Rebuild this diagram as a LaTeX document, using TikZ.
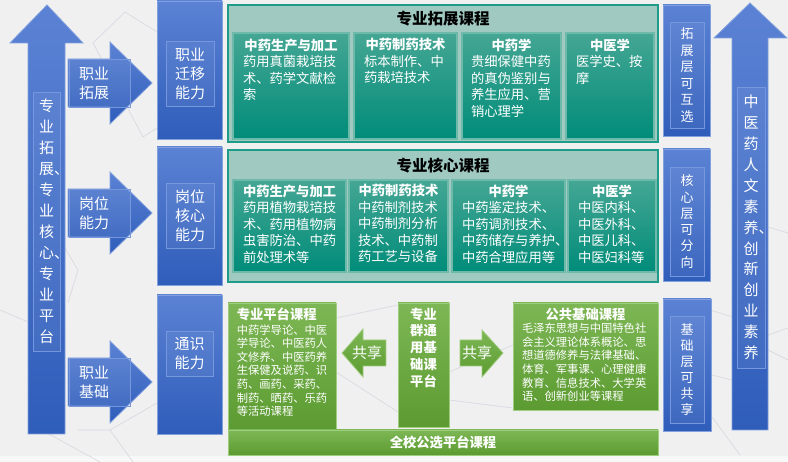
\documentclass[tikz,border=0pt]{standalone}
\usepackage{fontspec}
\setmainfont{Noto Sans CJK SC}
\usepackage{tikz}
\usetikzlibrary{positioning}
\definecolor{bgcol}{HTML}{F0F0F0}
\definecolor{bgline}{HTML}{D9D9E3}
\definecolor{bluetop}{HTML}{5B82D4}
\definecolor{bluebot}{HTML}{2F5DBA}
\definecolor{blueedge}{HTML}{82A0DE}
\definecolor{tealpale}{HTML}{9FC9C1}
\definecolor{tealedge}{HTML}{1E9C88}
\definecolor{tealtop}{HTML}{45A694}
\definecolor{tealbot}{HTML}{008C79}
\definecolor{tealsub}{HTML}{6DB9AA}
\definecolor{greentop}{HTML}{7DB755}
\definecolor{greenbot}{HTML}{5C9B31}
\definecolor{greenedge}{HTML}{9FCD7E}

\begin{document}
\begin{tikzpicture}[x=1pt, y=-1pt]
        %style
        \tikzset{bluebox/.style = {shape=rectangle, draw=blueedge, top color=bluetop, bottom color=bluebot, line width=0.8pt}}
        \tikzset{bluearrow/.style = {draw=blueedge, top color=bluetop, bottom color=bluebot, line width=0.8pt}}
        \tikzset{inbox/.style = {shape=rectangle, draw=blueedge!70!bluetop, fill=white, fill opacity=0.06, text opacity=1, text=white, align=center, inner sep=0pt, font=\fontsize{15}{19}\selectfont}}
        \tikzset{panel/.style = {shape=rectangle, draw=tealedge, fill=tealpale, line width=1.6pt}}
        \tikzset{ptitle/.style = {font=\fontsize{15.5}{18}\selectfont\bfseries, text=black, inner sep=0pt}}
        \tikzset{sub/.style = {shape=rectangle, draw=tealsub, top color=tealtop, bottom color=tealbot, line width=1.2pt, minimum width=10}}
        \tikzset{subtxt/.style = {text=white, align=left, inner sep=0pt, font=\fontsize{13.3}{16.5}\selectfont}}
        \tikzset{greenbox/.style = {shape=rectangle, draw=greenedge, top color=greentop, bottom color=greenbot, line width=0.8pt}}
        \tikzset{greenarrow/.style = {draw=greenedge, top color=greentop, bottom color=greenbot, line width=0.8pt}}
        \tikzset{gtxt/.style = {text=white, align=left, inner sep=0pt, font=\fontsize{11.3}{13.6}\selectfont}}
        \tikzset{gtitle/.style = {text=white, align=center, inner sep=0pt, font=\fontsize{13.3}{16.7}\selectfont\bfseries}}
        \tikzset{netline/.style = {draw=bgline, line width=0.7pt}}
        \fill[bgcol] (0,0) rectangle (788,462);
        \fill[white!55!bgcol] (0,456) rectangle (788,462);
        \useasboundingbox (0,0) rectangle (788,462);
        \draw[netline] (93,43) -- (125,12) -- (157,32);
        \draw[netline] (93,43) -- (143,137) -- (157,128);
        \draw[netline] (65,248) -- (78,270) -- (68,303);
        \draw[netline] (0,310) -- (28,322);
        \draw[netline] (77,430) -- (110,430) -- (157,403);
        \draw[netline] (110,430) -- (133,462);
        \draw[netline] (47,433) -- (100,462);
        \draw[netline] (336,318) -- (398,305);
        \draw[netline] (336,372) -- (398,412);
        \draw[netline] (449,372) -- (513,345);
        \draw[netline] (449,400) -- (513,408);
        \draw[netline] (710,310) -- (733,317);
        \draw[netline] (768,335) -- (788,328);
        \draw[netline] (712,375) -- (732,380);
        \draw[netline] (768,350) -- (788,360);
        \draw[netline] (712,417) -- (740,455);
        \draw[netline] (768,227) -- (788,233);

        \path[bluearrow] (28,434) -- (28,43) -- (10,43) -- (47,5) -- (83,43) -- (65,43) -- (65,434) -- cycle;
        \node[inbox, minimum width=27, minimum height=259, font=\fontsize{15}{21}\selectfont] (zyp) at (46.5,221.5) {专\\业\\拓\\展\rlap{、}\\专\\业\\核\\心\rlap{、}\\专\\业\\平\\台};

        \path[bluearrow] (68,59) -- (110,59) -- (110,42) -- (152,83) -- (110,124) -- (110,107) -- (68,107) -- cycle;
        \path[bluearrow] (68,189) -- (110,189) -- (110,172) -- (152,213) -- (110,254) -- (110,237) -- (68,237) -- cycle;
        \path[bluearrow] (68,358) -- (110,358) -- (110,341) -- (152,382) -- (110,423) -- (110,406) -- (68,406) -- cycle;
        \node[inbox, minimum width=61, minimum height=48, text width=41, align=left] (zytz) at (99.5,83) {职业\\拓展};
        \node[inbox, minimum width=61, minimum height=48, text width=41, align=left] (gwnl) at (99.5,213) {岗位\\能力};
        \node[inbox, minimum width=61, minimum height=48, text width=41, align=left] (zyjc) at (99.5,382) {职业\\基础};

        \node[bluebox, minimum width=65, minimum height=138] (qy)  at (189.5,70) {};
        \node[inbox, minimum width=48, minimum height=65] (qyt)    at (190,73.5) {职业\\迁移\\能力};
        \node[bluebox, minimum width=65, minimum height=138] (hx)  at (189.5,216) {};
        \node[inbox, minimum width=48, minimum height=65] (hxt)    at (190,215.5) {岗位\\核心\\能力};
        \node[bluebox, minimum width=65, minimum height=139] (ts)  at (189.5,364.5) {};
        \node[inbox, minimum width=47, minimum height=45] (tst)    at (189.5,353.5) {通识\\能力};

        \node[panel, minimum width=430, minimum height=137] (tz) at (443,73.5) {};
        \node[ptitle] (tzt) at (443,19) {专业拓展课程};
        \node[sub, minimum width=116, minimum height=106] (tz1) at (291,86) {};
        \node[sub, minimum width=103, minimum height=106] (tz2) at (405.5,86) {};
        \node[sub, minimum width=99,  minimum height=106] (tz3) at (511.5,86) {};
        \node[sub, minimum width=88,  minimum height=106] (tz4) at (610,86) {};
        \node[subtxt, text width=96, below=6pt of tz1.north] (tz1t) {\hspace*{\fill}\textbf{中药生产与加工}\hspace*{\fill}\null\\药用真菌栽培技\\术、药学文献检\\索};
        \node[subtxt, text width=83, below=6pt of tz2.north] (tz2t) {\hspace*{\fill}\textbf{中药制药技术}\hspace*{\fill}\null\\标本制作、中\\药栽培技术};
        \node[subtxt, text width=81, below=6pt of tz3.north] (tz3t) {\hspace*{\fill}\textbf{中药学}\hspace*{\fill}\null\\贵细保健中药\\的真伪鉴别与\\养生应用、营\\销心理学};
        \node[subtxt, text width=68, below=6pt of tz4.north] (tz4t) {\hspace*{\fill}\textbf{中医学}\hspace*{\fill}\null\\医学史、按\\摩};

        \node[panel, minimum width=430, minimum height=132] (hk) at (443,216) {};
        \node[ptitle] (hkt) at (443,166) {专业核心课程};
        \node[sub, minimum width=113, minimum height=92] (hk1) at (289.5,226) {};
        \node[sub, minimum width=99,  minimum height=92] (hk2) at (398.5,226) {};
        \node[sub, minimum width=113, minimum height=92] (hk3) at (508.5,226) {};
        \node[sub, minimum width=88,  minimum height=92] (hk4) at (612,226) {};
        \node[subtxt, text width=93, below=5pt of hk1.north] (hk1t) {\hspace*{\fill}\textbf{中药生产与加工}\hspace*{\fill}\null\\药用植物栽培技\\术、药用植物病\\虫害防治、中药\\前处理术等};
        \node[subtxt, text width=81, below=5pt of hk2.north] (hk2t) {\hspace*{\fill}\textbf{中药制药技术}\hspace*{\fill}\null\\中药制剂技术\\中药制剂分析\\技术、中药制\\药工艺与设备};
        \node[subtxt, text width=93, below=5pt of hk3.north] (hk3t) {\hspace*{\fill}\textbf{中药学}\hspace*{\fill}\null\\中药鉴定技术、\\中药调剂技术、\\中药储存与养护\rlap{、}\\中药合理应用等};
        \node[subtxt, text width=68, below=5pt of hk4.north] (hk4t) {\hspace*{\fill}\textbf{中医学}\hspace*{\fill}\null\\中医内科、\\中医外科、\\中医儿科、\\中医妇科等};

        \node[greenbox, minimum width=108, minimum height=127] (zp) at (282,366.5) {};
        \node[gtxt, text width=92, below right=5pt and 9pt of zp.north west] (zpt) {{\fontsize{13.3}{13.6}\selectfont\bfseries 专业平台课程}\\[1pt]中药学导论、中医\\学导论、中医药人\\文修养、中医药养\\生保健及说药、识\\药、画药、采药、\\制药、晒药、乐药\\等活动课程};
        \node[greenbox, minimum width=51, minimum height=124] (qt) at (423.5,365) {};
        \node[gtitle, below=5pt of qt.north] (qtt) {专业\\群通\\用基\\础课\\平台};
        \path[greenarrow] (342,353) -- (363,329) -- (363,340) -- (386,340) -- (386,366) -- (363,366) -- (363,377) -- cycle;
        \path[greenarrow] (460,340) -- (482,340) -- (482,330) -- (503,353) -- (482,377) -- (482,366) -- (460,366) -- cycle;
        \node[text=white, font=\fontsize{15}{18}\selectfont, inner sep=0pt] (gx1) at (367,353) {共享};
        \node[text=white, font=\fontsize{15}{18}\selectfont, inner sep=0pt] (gx2) at (477,353) {共享};
        \node[greenbox, minimum width=145, minimum height=107] (gg) at (585.5,356.5) {};
        \node[gtxt, text width=127, below=5pt of gg.north] (ggt) {\hspace*{\fill}{\fontsize{13.3}{13.6}\selectfont\bfseries 公共基础课程}\hspace*{\fill}\null\\毛泽东思想与中国特色社\\会主义理论体系概论、思\\想道德修养与法律基础、\\体育、军事课、心理健康\\教育、信息技术、大学英\\语、创新创业等课程};
        \node[greenbox, minimum width=430, minimum height=25, text=white, font=\fontsize{13.3}{16}\selectfont\bfseries] (qx) at (443,442.5) {全校公选平台课程};

        \node[bluebox, minimum width=47, minimum height=131] (kx) at (686.5,70.5) {};
        \node[inbox, minimum width=34, minimum height=106, font=\fontsize{13}{16.5}\selectfont] (kxt) at (687,75) {拓\\展\\层\\可\\互\\选};
        \node[bluebox, minimum width=47, minimum height=132] (kf) at (686.5,215) {};
        \node[inbox, minimum width=34, minimum height=109, font=\fontsize{13}{16.3}\selectfont] (kft) at (687,221.5) {核\\心\\层\\可\\分\\向};
        \node[bluebox, minimum width=48, minimum height=132] (kg) at (687,365) {};
        \node[inbox, minimum width=34, minimum height=107, font=\fontsize{13}{16}\selectfont] (kgt) at (687,369.5) {基\\础\\层\\可\\共\\享};

        \path[bluearrow] (732,430) -- (732,38) -- (714,38) -- (750,3) -- (787,38) -- (768,38) -- (768,430) -- cycle;
        \node[inbox, minimum width=28, minimum height=281, font=\fontsize{15}{20.9}\selectfont] (rw) at (751,227.5) {中\\医\\药\\人\\文\\素\\养\rlap{、}\\创\\新\\创\\业\\素\\养};
\end{tikzpicture}
\end{document}
